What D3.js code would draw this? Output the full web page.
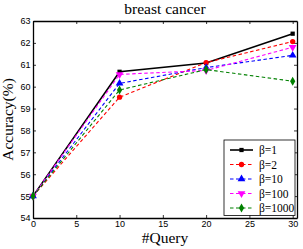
<!DOCTYPE html>
<html><head><meta charset="utf-8">
<script src="https://cdn.jsdelivr.net/npm/d3@7"></script>
<style>body{margin:0;background:#fff}svg{display:block}</style>
</head><body>
<script>
const queries = [0, 10, 20, 30];
const seriesNames = ["β=1", "β=2", "β=10", "β=100", "β=1000"];
const beta1 = [55.0, 60.68, 61.08, 62.42];
const beta2 = [55.0, 59.52, 61.1, 62.06];
const beta10 = [55.0, 60.15, 60.87, 61.43];
const beta100 = [55.0, 60.56, 60.74, 61.8];
const beta1000 = [55.0, 59.85, 60.78, 60.25];
const xTicks = [0, 5, 10, 15, 20, 25, 30];
const yTicks = [54, 55, 56, 57, 58, 59, 60, 61, 62, 63];

const seriesValues = [beta1, beta2, beta10, beta100, beta1000];
const colors = ["#000000", "#ff0000", "#0000ff", "#ff00ff", "#008000"];
const markers = [d3.symbolSquare, d3.symbolCircle, d3.symbolTriangle, "tridown", d3.symbolDiamond];

const W = 303, H = 249;
const L = 33, R = 297, T = 21, B = 218;
const svg = d3.select("body").append("svg").attr("width", W).attr("height", H);
const x = d3.scaleLinear().domain([0, 30.5]).range([L, R]);
const y = d3.scaleLinear().domain([54, 63]).range([B, T]);

const axisFont = "'Liberation Sans', Arial, sans-serif";
const serif = "'Liberation Serif', 'Times New Roman', serif";

const gx = svg.append("g").attr("transform", `translate(0,${B})`)
  .call(d3.axisBottom(x).tickValues(xTicks).tickSizeInner(-3).tickSizeOuter(0).tickPadding(3));
const gxt = svg.append("g").attr("transform", `translate(0,${T})`)
  .call(d3.axisTop(x).tickValues(xTicks).tickSizeInner(-3).tickSizeOuter(0).tickFormat(""));
const gy = svg.append("g").attr("transform", `translate(${L},0)`)
  .call(d3.axisLeft(y).tickValues(yTicks).tickSizeInner(-3).tickSizeOuter(0).tickPadding(2.5));
const gyr = svg.append("g").attr("transform", `translate(${R},0)`)
  .call(d3.axisRight(y).tickValues(yTicks).tickSizeInner(-3).tickSizeOuter(0).tickFormat(""));
[gx, gxt, gy, gyr].forEach(g => {
  g.select(".domain").attr("stroke", "#000").attr("stroke-width", 1.3);
  g.selectAll(".tick line").attr("stroke", "#000").attr("stroke-width", 0.8);
  g.selectAll("text").attr("font-family", axisFont).attr("font-size", 9).attr("fill", "#000");
});

function symbolPath(m, size) {
  if (m === "tridown") return d3.symbol().type(d3.symbolTriangle).size(size)();
  return d3.symbol().type(m).size(size)();
}
const sizes = [18, 22, 26, 26, 24];

const line = d3.line().x((d, i) => x(queries[i])).y(d => y(d));
seriesValues.forEach((vals, s) => {
  svg.append("path").datum(vals).attr("d", line)
    .attr("fill", "none").attr("stroke", colors[s])
    .attr("stroke-width", s === 0 ? 1.6 : 1.1)
    .attr("stroke-dasharray", s === 0 ? null : "3.5,2.5");
  svg.selectAll(null).data(vals).enter().append("path")
    .attr("d", symbolPath(markers[s], sizes[s]))
    .attr("transform", (d, i) => `translate(${x(queries[i])},${y(d)})` + (markers[s] === "tridown" ? " rotate(180)" : ""))
    .attr("fill", colors[s]);
});

svg.append("text").attr("x", (L + R) / 2).attr("y", 14).attr("text-anchor", "middle")
  .attr("font-family", serif).attr("font-size", 15.5).text("breast cancer");
svg.append("text").attr("x", (L + R) / 2).attr("y", 243).attr("text-anchor", "middle")
  .attr("font-family", serif).attr("font-size", 15.5).text("#Query");
svg.append("text").attr("transform", `translate(13,${(T + B) / 2}) rotate(-90)`).attr("text-anchor", "middle")
  .attr("font-family", serif).attr("font-size", 15.5).text("Accuracy(%)");

const lg = svg.append("g");
lg.append("rect").attr("x", 224).attr("y", 140).attr("width", 71).attr("height", 75.5)
  .attr("fill", "#fff").attr("stroke", "#000").attr("stroke-width", 0.8);
seriesNames.forEach((name, s) => {
  const yy = 150 + s * 14.5;
  lg.append("line").attr("x1", 230).attr("x2", 253).attr("y1", yy).attr("y2", yy)
    .attr("stroke", colors[s]).attr("stroke-width", s === 0 ? 1.6 : 1.1)
    .attr("stroke-dasharray", s === 0 ? null : "3.5,2.5");
  lg.append("path").attr("d", symbolPath(markers[s], sizes[s]))
    .attr("transform", `translate(241.5,${yy})` + (markers[s] === "tridown" ? " rotate(180)" : ""))
    .attr("fill", colors[s]);
  lg.append("text").attr("x", 259).attr("y", yy + 4).attr("font-family", serif)
    .attr("font-size", 11.5).text(name);
});
</script>
</body></html>
